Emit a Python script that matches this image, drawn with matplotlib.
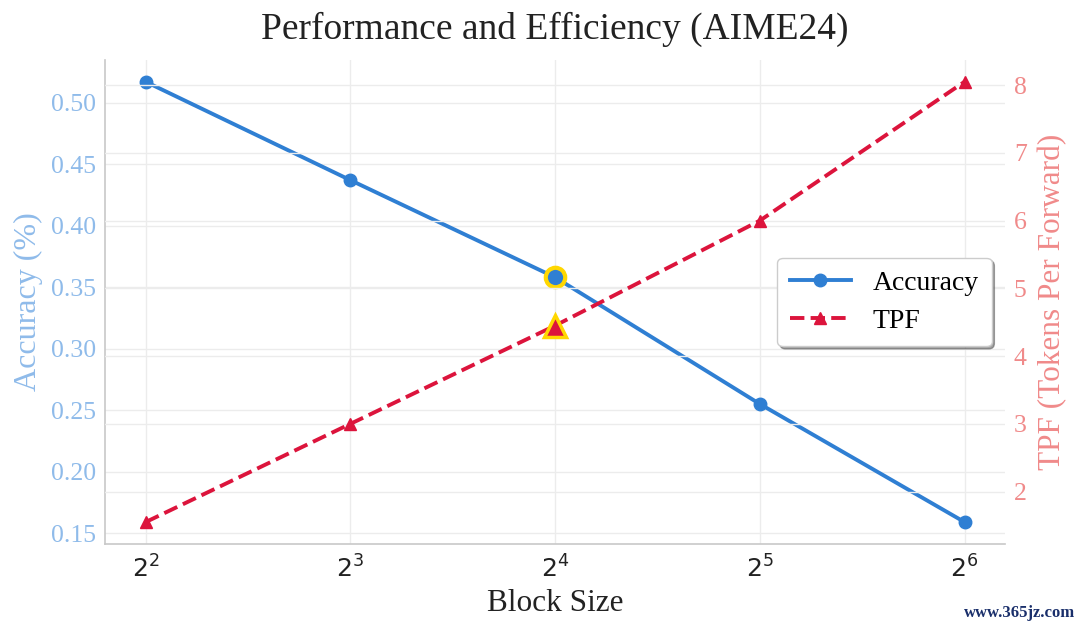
import matplotlib

matplotlib.use("Agg")
import matplotlib.pyplot as plt

# values
block_sizes = [4, 8, 16, 32, 64]
accuracy = [0.517, 0.437, 0.358, 0.255, 0.159]
tpf = [1.55, 3.0, 4.45, 6.0, 8.05]
highlight = 16

acc_color = "#2f7fd3"
tpf_color = "#dc143c"
acc_label_color = "#8fbbea"
tpf_label_color = "#f08a8a"
grid_color = "#ececec"

plt.rcParams["font.family"] = ["Liberation Serif", "DejaVu Serif"]
plt.rcParams["mathtext.fontset"] = "dejavusans"

fig = plt.figure(figsize=(10.8, 6.29), dpi=100)
ax = fig.add_axes([0.097, 0.135, 0.834, 0.77])
ax2 = ax.twinx()

ax.plot(block_sizes, accuracy, color=acc_color, lw=2.8, marker="o", ms=9,
        label="Accuracy", zorder=3)
ax2.plot(block_sizes, tpf, color=tpf_color, lw=2.8, ls="--", marker="^", ms=9,
         label="TPF", zorder=3)

# highlight the chosen block size
hi = block_sizes.index(highlight)
ax.plot([block_sizes[hi]], [accuracy[hi]], marker="o", ms=14, color=acc_color,
        mec="#ffd700", mew=3, ls="none", zorder=4)
ax2.plot([block_sizes[hi]], [tpf[hi]], marker="^", ms=16, color=tpf_color,
         mec="#ffd700", mew=2.5, ls="none", zorder=4)

ax.set_xscale("log", base=2)
ax.set_xticks(block_sizes)
ax.set_xticklabels([f"$2^{{{b.bit_length() - 1}}}$" for b in block_sizes])
ax.minorticks_off()
ax.tick_params(axis="x", labelsize=18, colors="#222222", length=0, pad=8)

ax.set_yticks([0.15, 0.20, 0.25, 0.30, 0.35, 0.40, 0.45, 0.50])
ax.yaxis.set_major_formatter(matplotlib.ticker.FormatStrFormatter("%.2f"))
ax.tick_params(axis="y", labelsize=18.5, colors=acc_label_color, length=0, pad=6)
ax2.set_yticks([2, 3, 4, 5, 6, 7, 8])
ax2.tick_params(axis="y", labelsize=18.5, colors=tpf_label_color, length=0, pad=6)

ax.set_xlabel("Block Size", fontsize=22.5, color="#222222", labelpad=5)
ax.set_ylabel("Accuracy (%)", fontsize=23, color=acc_label_color, labelpad=6)
ax2.set_ylabel("TPF (Tokens Per Forward)", fontsize=22.5, color=tpf_label_color,
               labelpad=8)
ax.set_title("Performance and Efficiency (AIME24)", fontsize=27,
             color="#222222", pad=15)

ax.grid(True, color=grid_color, lw=1)
ax2.grid(True, color=grid_color, lw=1)
ax.set_axisbelow(True)
for side in ["top", "right"]:
    ax.spines[side].set_visible(False)
for side in ["top", "right", "left", "bottom"]:
    ax2.spines[side].set_visible(False)
ax.spines["left"].set_color("#c8c8c8")
ax.spines["bottom"].set_color("#c8c8c8")
ax.spines["left"].set_linewidth(1.2)
ax.spines["bottom"].set_linewidth(1.2)

h1, l1 = ax.get_legend_handles_labels()
h2, l2 = ax2.get_legend_handles_labels()
leg = ax2.legend(h1 + h2, l1 + l2, loc="center right",
                 bbox_to_anchor=(1.0, 0.5), fontsize=20, frameon=True,
                 fancybox=True, shadow=True, borderpad=0.45, handlelength=2.2,
                 labelspacing=0.45, handletextpad=0.8)
leg.get_frame().set_edgecolor("#cccccc")

fig.text(0.995, 0.012, "www.365jz.com", ha="right", va="bottom", fontsize=12,
         color="#1a2f6b", fontweight="bold")

fig.savefig("out.png", dpi=100)
